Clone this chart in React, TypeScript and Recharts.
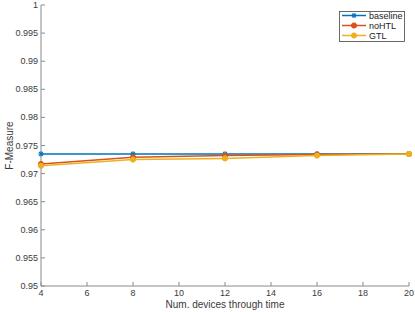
import React from 'react';
import { LineChart, Line, XAxis, YAxis, Legend } from 'recharts';

const devices = [4, 8, 12, 16, 20];
const baseline = [0.9735, 0.9735, 0.9735, 0.9735, 0.9735];
const noHTL = [0.9717, 0.9729, 0.9732, 0.9734, 0.9735];
const gtl = [0.9714, 0.9725, 0.9727, 0.9732, 0.9735];
const xTicks = [4, 6, 8, 10, 12, 14, 16, 18, 20];
const yTicks = [0.95, 0.955, 0.96, 0.965, 0.97, 0.975, 0.98, 0.985, 0.99, 0.995, 1];
const yTickLabels = ['0.95', '0.955', '0.96', '0.965', '0.97', '0.975', '0.98', '0.985', '0.99', '0.995', '1'];
const seriesNames = ['baseline', 'noHTL', 'GTL'];
const colors = ['#0072BD', '#D95319', '#EDB120'];

const data = devices.map((d, i) => ({ x: d, baseline: baseline[i], noHTL: noHTL[i], GTL: gtl[i] }));

const AXIS = '#8a8a8a';
const TEXT = '#3a3a3a';
const FONT = '"Liberation Sans", Arial, Helvetica, sans-serif';
const TL = 4;

function Marker({ kind, cx, cy, color }: { kind: number; cx: number; cy: number; color: string }) {
  if (kind === 0) {
    const s = 2.6;
    return (
      <g stroke={color} strokeWidth={1.1}>
        <line x1={cx - s} y1={cy} x2={cx + s} y2={cy} />
        <line x1={cx} y1={cy - s} x2={cx} y2={cy + s} />
        <line x1={cx - s * 0.75} y1={cy - s * 0.75} x2={cx + s * 0.75} y2={cy + s * 0.75} />
        <line x1={cx - s * 0.75} y1={cy + s * 0.75} x2={cx + s * 0.75} y2={cy - s * 0.75} />
      </g>
    );
  }
  return <circle cx={cx} cy={cy} r={2.6} fill={color} stroke={color} strokeWidth={1} />;
}

const makeDot = (kind: number) => (props: any) => {
  const { cx, cy, index } = props;
  return <Marker key={`m${kind}-${index}`} kind={kind} cx={cx} cy={cy} color={colors[kind]} />;
};

const BottomTick = (props: any) => {
  const { x, y, payload } = props;
  return (
    <g>
      <line x1={x} y1={y} x2={x} y2={y - TL} stroke={AXIS} />
      <text x={x} y={y + 10} textAnchor="middle" fontSize={9} fill={TEXT} fontFamily={FONT}>{payload.value}</text>
    </g>
  );
};

const TopTick = (props: any) => {
  const { x, y } = props;
  return <line x1={x} y1={y} x2={x} y2={y + TL} stroke={AXIS} />;
};

const LeftTick = (props: any) => {
  const { x, y, payload, index } = props;
  return (
    <g>
      <line x1={x} y1={y} x2={x + TL} y2={y} stroke={AXIS} />
      <text x={x - 3} y={y + 3} textAnchor="end" fontSize={9} fill={TEXT} fontFamily={FONT}>{yTickLabels[index] ?? payload.value}</text>
    </g>
  );
};

const RightTick = (props: any) => {
  const { x, y } = props;
  return <line x1={x} y1={y} x2={x - TL} y2={y} stroke={AXIS} />;
};

const LegendBox = () => (
  <svg width={66} height={31} style={{ display: 'block' }}>
    <rect x={0.5} y={0.5} width={65} height={30} fill="#fff" stroke="#444" strokeWidth={0.8} />
    {seriesNames.map((n, i) => {
      const cy = 4.5 + i * 10;
      return (
        <g key={n}>
          <line x1={3} y1={cy} x2={27} y2={cy} stroke={colors[i]} strokeWidth={1.5} />
          <Marker kind={i} cx={15} cy={cy} color={colors[i]} />
          <text x={30} y={cy + 3} fontSize={9} fill="#222" fontFamily={FONT}>{n}</text>
        </g>
      );
    })}
  </svg>
);

export default function App() {
  return (
    <div style={{ position: 'absolute', left: 0, top: 0, width: 415, height: 312, background: '#fff' }}>
      <LineChart width={415} height={312} data={data} margin={{ top: 5, right: 6, left: 0, bottom: 0 }}>
        <XAxis
          dataKey="x"
          type="number"
          domain={[4, 20]}
          ticks={xTicks}
          height={26}
          tickSize={0}
          tickMargin={0}
          tickLine={false}
          axisLine={{ stroke: AXIS }}
          tick={<BottomTick />}
          interval={0}
          label={{ value: 'Num. devices through time', position: 'insideBottom', offset: 4, fontSize: 10, fill: TEXT, fontFamily: FONT }}
        />
        <XAxis
          xAxisId="top"
          orientation="top"
          dataKey="x"
          type="number"
          domain={[4, 20]}
          ticks={xTicks}
          height={0}
          tickSize={0}
          tickMargin={0}
          tickLine={false}
          axisLine={{ stroke: AXIS }}
          tick={<TopTick />}
          interval={0}
        />
        <YAxis
          type="number"
          domain={[0.95, 1]}
          ticks={yTicks}
          width={41}
          tickSize={0}
          tickMargin={0}
          tickLine={false}
          axisLine={{ stroke: AXIS }}
          tick={<LeftTick />}
          interval={0}
          label={{ value: 'F-Measure', angle: -90, position: 'insideLeft', offset: 9, fontSize: 10, fill: TEXT, fontFamily: FONT, style: { textAnchor: 'middle' } }}
        />
        <YAxis
          yAxisId="right"
          orientation="right"
          type="number"
          domain={[0.95, 1]}
          ticks={yTicks}
          width={0}
          tickSize={0}
          tickMargin={0}
          tickLine={false}
          axisLine={{ stroke: AXIS }}
          tick={<RightTick />}
          interval={0}
        />
        <Legend
          layout="vertical"
          align="center"
          verticalAlign="middle"
          content={<LegendBox />}
          wrapperStyle={{ left: 339, top: 11, width: 66, height: 31 }}
        />
        <Line dataKey="baseline" stroke={colors[0]} strokeWidth={1.5} dot={makeDot(0)} isAnimationActive={false} />
        <Line dataKey="noHTL" stroke={colors[1]} strokeWidth={1.5} dot={makeDot(1)} isAnimationActive={false} />
        <Line dataKey="GTL" stroke={colors[2]} strokeWidth={1.5} dot={makeDot(2)} isAnimationActive={false} />
      </LineChart>
    </div>
  );
}
